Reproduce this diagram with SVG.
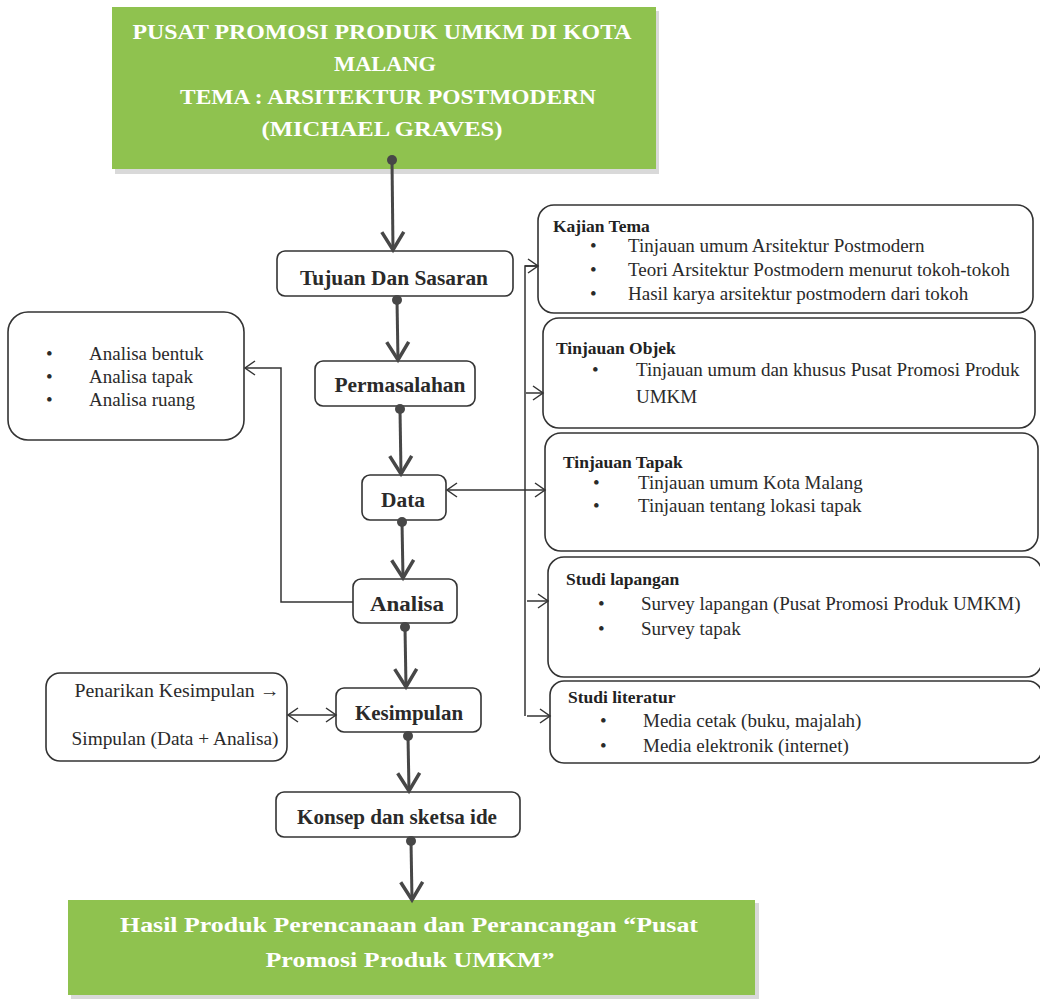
<svg xmlns="http://www.w3.org/2000/svg" width="1040" height="1001" viewBox="0 0 1040 1001">
<style>
.bg{fill:#ffffff}
.green{fill:#8fc24f}
.shadow{fill:#d9d9d9}
.gt{font-family:"Liberation Serif",serif;font-weight:bold;fill:#ffffff;text-anchor:middle}
.box{fill:#ffffff;stroke:#333333;stroke-width:1.6}
.mt{font-family:"Liberation Serif",serif;font-weight:bold;font-size:20px;fill:#2a2a2a;text-anchor:middle}
.tt{font-family:"Liberation Serif",serif;font-weight:bold;font-size:17.5px;fill:#222222}
.it{font-family:"Liberation Serif",serif;font-size:19px;fill:#2a2a2a}
.bl{font-family:"Liberation Serif",serif;font-size:19px;fill:#2a2a2a}
.flow{stroke:#474747;stroke-width:3;fill:none}
.thin{stroke:#333333;stroke-width:1.5;fill:none}
.dot{fill:#474747}
</style>
<defs>
<marker id="big" markerUnits="userSpaceOnUse" markerWidth="26" markerHeight="28" viewBox="0 0 26 28" refX="20" refY="14" orient="auto">
<path d="M2,3 L20,14 L2,25" fill="none" stroke="#474747" stroke-width="3.5"/>
</marker>
<marker id="sm" markerUnits="userSpaceOnUse" markerWidth="14" markerHeight="18" viewBox="0 0 14 18" refX="12" refY="9" orient="auto-start-reverse">
<path d="M2,2 L12,9 L2,16" fill="none" stroke="#333333" stroke-width="1.5"/>
</marker>
</defs>
<rect class="bg" x="0" y="0" width="1040" height="1001"/>

<g id="title">
<rect class="shadow" x="115" y="11" width="544" height="163"/>
<rect class="green" x="112" y="7" width="544" height="162"/>
<text class="gt" x="382" y="39" font-size="21" textLength="499" lengthAdjust="spacingAndGlyphs">PUSAT PROMOSI PRODUK UMKM DI KOTA</text>
<text class="gt" x="385" y="71" font-size="21" textLength="102" lengthAdjust="spacingAndGlyphs">MALANG</text>
<text class="gt" x="388" y="104" font-size="21" textLength="416" lengthAdjust="spacingAndGlyphs">TEMA : ARSITEKTUR POSTMODERN</text>
<text class="gt" x="382" y="136" font-size="21" textLength="241" lengthAdjust="spacingAndGlyphs">(MICHAEL GRAVES)</text>
</g>

<g id="tujuan">
<rect class="box" x="277" y="251" width="236" height="45" rx="8"/>
<text class="mt" x="394" y="285" textLength="188" lengthAdjust="spacingAndGlyphs">Tujuan Dan Sasaran</text>
</g>
<g id="permasalahan">
<rect class="box" x="315" y="361" width="160" height="45" rx="8"/>
<text class="mt" x="400" y="392" textLength="131" lengthAdjust="spacingAndGlyphs">Permasalahan</text>
</g>
<g id="data">
<rect class="box" x="362" y="475" width="84" height="45" rx="8"/>
<text class="mt" x="403" y="507" textLength="44" lengthAdjust="spacingAndGlyphs">Data</text>
</g>
<g id="analisa">
<rect class="box" x="353" y="579" width="104" height="44" rx="8"/>
<text class="mt" x="407" y="611" textLength="74" lengthAdjust="spacingAndGlyphs">Analisa</text>
</g>
<g id="kesimpulan">
<rect class="box" x="336" y="688" width="145" height="44" rx="8"/>
<text class="mt" x="409" y="720" textLength="108" lengthAdjust="spacingAndGlyphs">Kesimpulan</text>
</g>
<g id="konsep">
<rect class="box" x="276" y="792" width="244" height="45" rx="8"/>
<text class="mt" x="397" y="824" textLength="200" lengthAdjust="spacingAndGlyphs">Konsep dan sketsa ide</text>
</g>

<g id="hasil">
<rect class="shadow" x="71" y="903" width="688" height="96"/>
<rect class="green" x="68" y="900" width="687" height="95"/>
<text class="gt" x="409" y="932" font-size="21" textLength="578" lengthAdjust="spacingAndGlyphs">Hasil Produk Perencanaan dan Perancangan “Pusat</text>
<text class="gt" x="410" y="967" font-size="21" textLength="289" lengthAdjust="spacingAndGlyphs">Promosi Produk UMKM”</text>
</g>

<g id="kajian-tema">
<rect class="box" x="538" y="205" width="495" height="108" rx="16"/>
<text class="tt" x="553" y="232">Kajian  Tema</text>
<text class="bl" x="590" y="252">•</text>
<text class="it" x="628" y="252">Tinjauan umum Arsitektur Postmodern</text>
<text class="bl" x="590" y="276">•</text>
<text class="it" x="628" y="276">Teori Arsitektur Postmodern menurut tokoh-tokoh</text>
<text class="bl" x="590" y="300">•</text>
<text class="it" x="628" y="300">Hasil karya arsitektur postmodern dari tokoh</text>
</g>
<g id="tinjauan-objek">
<rect class="box" x="543" y="318" width="492" height="110" rx="16"/>
<text class="tt" x="556" y="354">Tinjauan Objek</text>
<text class="bl" x="592" y="376">•</text>
<text class="it" x="636" y="376">Tinjauan umum dan khusus Pusat Promosi  Produk</text>
<text class="it" x="636" y="403">UMKM</text>
</g>
<g id="tinjauan-tapak">
<rect class="box" x="545" y="433" width="493" height="118" rx="16"/>
<text class="tt" x="563" y="468">Tinjauan  Tapak</text>
<text class="bl" x="593" y="489">•</text>
<text class="it" x="638" y="489">Tinjauan umum Kota Malang</text>
<text class="bl" x="593" y="512">•</text>
<text class="it" x="638" y="512">Tinjauan tentang lokasi tapak</text>
</g>
<g id="studi-lapangan">
<rect class="box" x="548" y="557" width="494" height="120" rx="16"/>
<text class="tt" x="566" y="585">Studi lapangan</text>
<text class="bl" x="598" y="610">•</text>
<text class="it" x="641" y="610">Survey lapangan (Pusat Promosi Produk UMKM)</text>
<text class="bl" x="598" y="635">•</text>
<text class="it" x="641" y="635">Survey tapak</text>
</g>
<g id="studi-literatur">
<rect class="box" x="550" y="681" width="492" height="82" rx="14"/>
<text class="tt" x="568" y="703">Studi literatur</text>
<text class="bl" x="600" y="727">•</text>
<text class="it" x="643" y="727">Media cetak (buku, majalah)</text>
<text class="bl" x="600" y="752">•</text>
<text class="it" x="643" y="752">Media elektronik (internet)</text>
</g>

<g id="analisa-list">
<rect class="box" x="8" y="312" width="236" height="128" rx="20"/>
<text class="bl" x="46" y="360">•</text>
<text class="it" x="89" y="360">Analisa bentuk</text>
<text class="bl" x="46" y="383">•</text>
<text class="it" x="89" y="383">Analisa tapak</text>
<text class="bl" x="46" y="406">•</text>
<text class="it" x="89" y="406">Analisa ruang</text>
</g>
<g id="kesimpulan-note">
<rect class="box" x="46" y="673" width="241" height="88" rx="14"/>
<text class="it" x="177" y="697" text-anchor="middle" textLength="205" lengthAdjust="spacingAndGlyphs">Penarikan Kesimpulan →</text>
<text class="it" x="175" y="745" text-anchor="middle" textLength="207" lengthAdjust="spacingAndGlyphs">Simpulan (Data + Analisa)</text>
</g>

<g id="connectors">
<line class="flow" x1="392" y1="160" x2="393" y2="250" marker-end="url(#big)"/>
<circle class="dot" cx="392" cy="160" r="5"/>
<line class="flow" x1="397" y1="300" x2="398" y2="360" marker-end="url(#big)"/>
<circle class="dot" cx="397" cy="300" r="5"/>
<line class="flow" x1="400" y1="409" x2="401" y2="474" marker-end="url(#big)"/>
<circle class="dot" cx="400" cy="409" r="5"/>
<line class="flow" x1="402" y1="522" x2="403" y2="578" marker-end="url(#big)"/>
<circle class="dot" cx="402" cy="522" r="5"/>
<line class="flow" x1="405" y1="627" x2="406" y2="687" marker-end="url(#big)"/>
<circle class="dot" cx="405" cy="627" r="5"/>
<line class="flow" x1="408" y1="736" x2="409" y2="791" marker-end="url(#big)"/>
<circle class="dot" cx="408" cy="736" r="5"/>
<line class="flow" x1="411" y1="841" x2="412" y2="900" marker-end="url(#big)"/>
<circle class="dot" cx="411" cy="841" r="5"/>

<path class="thin" d="M538,266 H525 V716"/>
<path class="thin" d="M525,266 H538" marker-end="url(#sm)"/>
<path class="thin" d="M526,393 H543" marker-end="url(#sm)"/>
<path class="thin" d="M447,490 H545" marker-start="url(#sm)" marker-end="url(#sm)"/>
<path class="thin" d="M527,601 H548" marker-end="url(#sm)"/>
<path class="thin" d="M527,716 H550" marker-end="url(#sm)"/>

<path class="thin" d="M353,602 H281 V368 H245" marker-end="url(#sm)"/>
<path class="thin" d="M288,715 H336" marker-start="url(#sm)" marker-end="url(#sm)"/>
</g>
</svg>
